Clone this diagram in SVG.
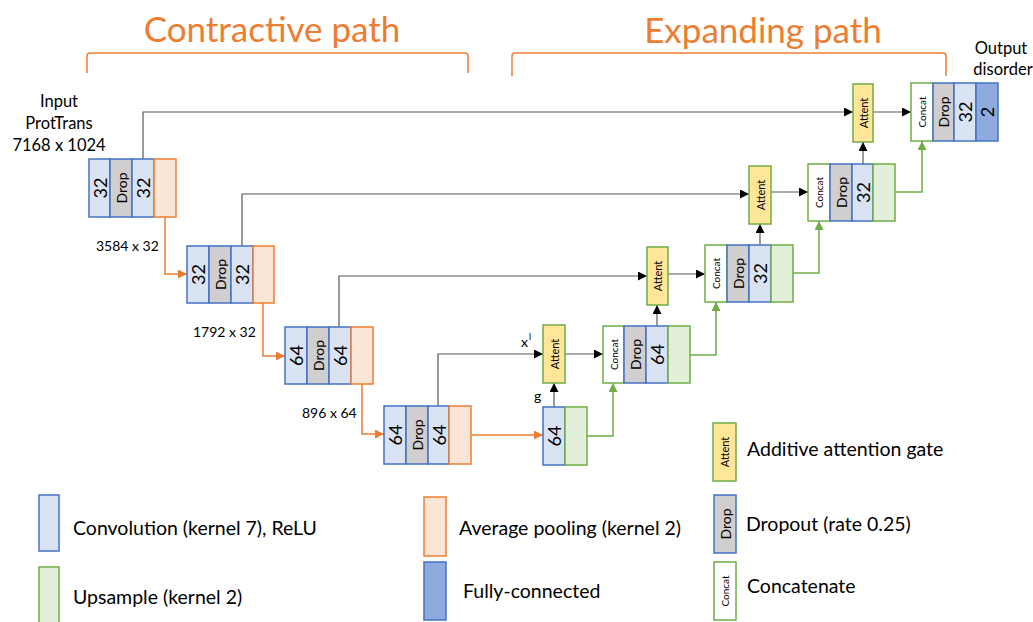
<svg xmlns="http://www.w3.org/2000/svg" width="1033" height="622" viewBox="0 0 1033 622">
<defs>
<style>
text{font-family:Lato,"Open Sans","Liberation Sans",sans-serif;fill:#000}
.title{font-size:35px;fill:#ED7D31}
.lbl{font-size:16.5px}
.dim{font-size:14px}
.leg{font-size:19.5px}
.num{font-size:18px}
.drop{font-size:14px}
.cc{font-size:10px}
.at{font-size:11px}
.conv{fill:#DAE3F3;stroke:#4472C4;stroke-width:1.5}
.dr{fill:#D0CECE;stroke:#4472C4;stroke-width:1.5}
.pool{fill:#FBE5D6;stroke:#ED7D31;stroke-width:1.5}
.up{fill:#E2F0D9;stroke:#70AD47;stroke-width:1.5}
.cat{fill:#FFFFFF;stroke:#70AD47;stroke-width:1.5}
.att{fill:#FFE699;stroke:#70AD47;stroke-width:1.5}
.fc{fill:#8FAADC;stroke:#4472C4;stroke-width:1.5}
.br{fill:none;stroke:#ED7D31;stroke-width:1.5}
.k{fill:none;stroke:#595959;stroke-width:1.2}
.o{fill:none;stroke:#ED7D31;stroke-width:1.5}
.g{fill:none;stroke:#70AD47;stroke-width:1.5}
</style>
<marker id="ak" viewBox="0 0 10 10" refX="10" refY="5" markerUnits="userSpaceOnUse" markerWidth="10" markerHeight="9" orient="auto"><path d="M0,0 L10,5 L0,10 z" fill="#000"/></marker>
<marker id="ao" viewBox="0 0 10 10" refX="10" refY="5" markerUnits="userSpaceOnUse" markerWidth="10" markerHeight="9" orient="auto"><path d="M0,0 L10,5 L0,10 z" fill="#ED7D31"/></marker>
<marker id="ag" viewBox="0 0 10 10" refX="10" refY="5" markerUnits="userSpaceOnUse" markerWidth="10" markerHeight="9" orient="auto"><path d="M0,0 L10,5 L0,10 z" fill="#70AD47"/></marker>
</defs>
<rect width="1033" height="622" fill="#FFFFFF"/>

<g id="titles">
<text class="title" x="272" y="42" text-anchor="middle">Contractive path</text>
<path class="br" d="M87,73 V56 Q87,53 90,53 H465 Q468,53 468,56 V73"/>
<text class="title" x="763" y="43" text-anchor="middle">Expanding path</text>
<path class="br" d="M512,76 V56 Q512,53 515,53 H943 Q946,53 946,56 V76"/>
</g>

<g id="input-label">
<text class="lbl" x="59" y="107" text-anchor="middle">Input</text>
<text class="lbl" x="59" y="129" text-anchor="middle">ProtTrans</text>
<text class="lbl" x="59" y="151" text-anchor="middle">7168 x 1024</text>
</g>
<g id="output-label">
<text class="lbl" x="1001" y="54" text-anchor="middle">Output</text>
<text class="lbl" x="1003" y="75" text-anchor="middle">disorder</text>
</g>

<g id="connectors">
<path class="k" d="M143,159 V112 H853" marker-end="url(#ak)"/>
<path class="k" d="M242,246 V194 H749" marker-end="url(#ak)"/>
<path class="k" d="M339,327 V276 H647" marker-end="url(#ak)"/>
<path class="k" d="M438,406 V354 H543" marker-end="url(#ak)"/>
<path class="o" d="M165,217 V274 H187" marker-end="url(#ao)"/>
<path class="o" d="M263,303 V356 H285" marker-end="url(#ao)"/>
<path class="o" d="M362,384 V434 H384" marker-end="url(#ao)"/>
<path class="o" d="M471,435 H543" marker-end="url(#ao)"/>
<path class="k" d="M554,407 V383" marker-end="url(#ak)"/>
<path class="k" d="M565,354 H603" marker-end="url(#ak)"/>
<path class="g" d="M587,436 H613 V383" marker-end="url(#ag)"/>
<path class="k" d="M657,326 V305" marker-end="url(#ak)"/>
<path class="k" d="M668,274 H705" marker-end="url(#ak)"/>
<path class="g" d="M690,355 H716 V302" marker-end="url(#ag)"/>
<path class="k" d="M760,245 V224" marker-end="url(#ak)"/>
<path class="k" d="M771,192 H808" marker-end="url(#ak)"/>
<path class="g" d="M793,273 H819 V221" marker-end="url(#ag)"/>
<path class="k" d="M863,164 V142" marker-end="url(#ak)"/>
<path class="k" d="M873,112 H911" marker-end="url(#ak)"/>
<path class="g" d="M895,192 H922 V141" marker-end="url(#ag)"/>
<text class="dim" x="96" y="251">3584 x 32</text>
<text class="dim" x="193" y="337">1792 x 32</text>
<text class="dim" x="302" y="418">896 x 64</text>
<text class="dim" x="521" y="347">x</text>
<text style="font-size:9px" x="529" y="340">l</text>
<text class="dim" x="534" y="401">g</text>
</g>

<g id="enc1">
<rect class="conv" x="89" y="159" width="21" height="58"/>
<rect class="dr" x="110" y="159" width="22" height="58"/>
<rect class="conv" x="132" y="159" width="22" height="58"/>
<rect class="pool" x="154" y="159" width="22" height="58"/>
<text class="num" transform="translate(99.5,188) rotate(-90)" text-anchor="middle" dominant-baseline="central">32</text>
<text class="drop" transform="translate(121,188) rotate(-90)" text-anchor="middle" dominant-baseline="central">Drop</text>
<text class="num" transform="translate(143,188) rotate(-90)" text-anchor="middle" dominant-baseline="central">32</text>
</g>
<g id="enc2">
<rect class="conv" x="187" y="246" width="22" height="57"/>
<rect class="dr" x="209" y="246" width="22" height="57"/>
<rect class="conv" x="231" y="246" width="22" height="57"/>
<rect class="pool" x="253" y="246" width="21" height="57"/>
<text class="num" transform="translate(198,274.5) rotate(-90)" text-anchor="middle" dominant-baseline="central">32</text>
<text class="drop" transform="translate(220,274.5) rotate(-90)" text-anchor="middle" dominant-baseline="central">Drop</text>
<text class="num" transform="translate(242,274.5) rotate(-90)" text-anchor="middle" dominant-baseline="central">32</text>
</g>
<g id="enc3">
<rect class="conv" x="285" y="327" width="22" height="57"/>
<rect class="dr" x="307" y="327" width="22" height="57"/>
<rect class="conv" x="329" y="327" width="22" height="57"/>
<rect class="pool" x="351" y="327" width="22" height="57"/>
<text class="num" transform="translate(296,355.5) rotate(-90)" text-anchor="middle" dominant-baseline="central">64</text>
<text class="drop" transform="translate(318,355.5) rotate(-90)" text-anchor="middle" dominant-baseline="central">Drop</text>
<text class="num" transform="translate(340,355.5) rotate(-90)" text-anchor="middle" dominant-baseline="central">64</text>
</g>
<g id="enc4">
<rect class="conv" x="384" y="406" width="22" height="58"/>
<rect class="dr" x="406" y="406" width="22" height="58"/>
<rect class="conv" x="428" y="406" width="21" height="58"/>
<rect class="pool" x="449" y="406" width="22" height="58"/>
<text class="num" transform="translate(395,435) rotate(-90)" text-anchor="middle" dominant-baseline="central">64</text>
<text class="drop" transform="translate(417,435) rotate(-90)" text-anchor="middle" dominant-baseline="central">Drop</text>
<text class="num" transform="translate(438.5,435) rotate(-90)" text-anchor="middle" dominant-baseline="central">64</text>
</g>
<g id="bridge">
<rect class="conv" x="543" y="407" width="22" height="58"/>
<rect class="up" x="565" y="407" width="22" height="58"/>
<text class="num" transform="translate(554,436) rotate(-90)" text-anchor="middle" dominant-baseline="central">64</text>
</g>

<g id="att1">
<rect class="att" x="543" y="325" width="22" height="58"/>
<text class="at" transform="translate(554,354) rotate(-90)" text-anchor="middle" dominant-baseline="central">Attent</text>
</g>
<g id="dec1">
<rect class="cat" x="603" y="326" width="21" height="57"/>
<rect class="dr" x="624" y="326" width="22" height="57"/>
<rect class="conv" x="646" y="326" width="22" height="57"/>
<rect class="up" x="668" y="326" width="22" height="57"/>
<text class="cc" transform="translate(613.5,354.5) rotate(-90)" text-anchor="middle" dominant-baseline="central">Concat</text>
<text class="drop" transform="translate(635,354.5) rotate(-90)" text-anchor="middle" dominant-baseline="central">Drop</text>
<text class="num" transform="translate(657,354.5) rotate(-90)" text-anchor="middle" dominant-baseline="central">64</text>
</g>

<g id="att2">
<rect class="att" x="647" y="247" width="21" height="58"/>
<text class="at" transform="translate(657.5,276) rotate(-90)" text-anchor="middle" dominant-baseline="central">Attent</text>
</g>
<g id="dec2">
<rect class="cat" x="705" y="245" width="22" height="57"/>
<rect class="dr" x="727" y="245" width="22" height="57"/>
<rect class="conv" x="749" y="245" width="22" height="57"/>
<rect class="up" x="771" y="245" width="22" height="57"/>
<text class="cc" transform="translate(716,273.5) rotate(-90)" text-anchor="middle" dominant-baseline="central">Concat</text>
<text class="drop" transform="translate(738,273.5) rotate(-90)" text-anchor="middle" dominant-baseline="central">Drop</text>
<text class="num" transform="translate(760,273.5) rotate(-90)" text-anchor="middle" dominant-baseline="central">32</text>
</g>

<g id="att3">
<rect class="att" x="749" y="166" width="22" height="58"/>
<text class="at" transform="translate(760,195) rotate(-90)" text-anchor="middle" dominant-baseline="central">Attent</text>
</g>
<g id="dec3">
<rect class="cat" x="808" y="164" width="22" height="57"/>
<rect class="dr" x="830" y="164" width="22" height="57"/>
<rect class="conv" x="852" y="164" width="21" height="57"/>
<rect class="up" x="873" y="164" width="22" height="57"/>
<text class="cc" transform="translate(819,192.5) rotate(-90)" text-anchor="middle" dominant-baseline="central">Concat</text>
<text class="drop" transform="translate(841,192.5) rotate(-90)" text-anchor="middle" dominant-baseline="central">Drop</text>
<text class="num" transform="translate(862.5,192.5) rotate(-90)" text-anchor="middle" dominant-baseline="central">32</text>
</g>

<g id="att4">
<rect class="att" x="853" y="84" width="20" height="58"/>
<text class="at" transform="translate(863,113) rotate(-90)" text-anchor="middle" dominant-baseline="central">Attent</text>
</g>
<g id="dec4">
<rect class="cat" x="911" y="83" width="22" height="58"/>
<rect class="dr" x="933" y="83" width="21" height="58"/>
<rect class="conv" x="954" y="83" width="22" height="58"/>
<rect class="fc" x="976" y="83" width="22" height="58"/>
<text class="cc" transform="translate(922,112) rotate(-90)" text-anchor="middle" dominant-baseline="central">Concat</text>
<text class="drop" transform="translate(943.5,112) rotate(-90)" text-anchor="middle" dominant-baseline="central">Drop</text>
<text class="num" transform="translate(965,112) rotate(-90)" text-anchor="middle" dominant-baseline="central">32</text>
<text class="num" transform="translate(987,112) rotate(-90)" text-anchor="middle" dominant-baseline="central">2</text>
</g>

<g id="legend">
<rect class="conv" x="39" y="495" width="20" height="56"/>
<text class="leg" x="73" y="535">Convolution (kernel 7), ReLU</text>
<rect class="up" x="39" y="567" width="20" height="58"/>
<text class="leg" x="73" y="604">Upsample (kernel 2)</text>
<rect class="pool" x="424" y="497" width="22" height="59"/>
<text class="leg" x="459" y="535">Average pooling (kernel 2)</text>
<rect class="fc" x="424" y="562" width="22" height="58"/>
<text class="leg" x="463" y="598">Fully-connected</text>
<rect class="att" x="713" y="423" width="23" height="58"/>
<text class="at" transform="translate(724.5,452) rotate(-90)" text-anchor="middle" dominant-baseline="central">Attent</text>
<text class="leg" x="747" y="456">Additive attention gate</text>
<rect class="dr" x="714" y="495" width="22" height="58"/>
<text class="drop" transform="translate(725,524) rotate(-90)" text-anchor="middle" dominant-baseline="central">Drop</text>
<text class="leg" x="746" y="531">Dropout (rate 0.25)</text>
<rect class="cat" x="714" y="562" width="22" height="58"/>
<text class="cc" transform="translate(725,591) rotate(-90)" text-anchor="middle" dominant-baseline="central">Concat</text>
<text class="leg" x="747" y="593">Concatenate</text>
</g>
</svg>
